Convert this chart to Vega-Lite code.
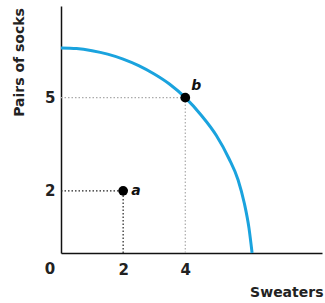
{
  "$schema": "https://vega.github.io/schema/vega-lite/v6.json",
  "width": 261,
  "height": 247,
  "autosize": "none",
  "padding": {"left": 61, "top": 6, "right": 3, "bottom": 50},
  "background": "white",
  "config": {
    "view": {"stroke": null},
    "axis": {
      "grid": false,
      "ticks": false,
      "domainColor": "#111",
      "domainWidth": 1.5,
      "labelFont": "DejaVu Sans",
      "labelFontWeight": "bold",
      "labelFontSize": 15,
      "labelColor": "#222",
      "titleFont": "DejaVu Sans",
      "titleFontWeight": "bold",
      "titleFontSize": 14,
      "titleColor": "#222"
    }
  },
  "datasets": {
    "curve": [
      {"x": 0, "y": 6.6}, {"x": 0.5, "y": 6.58}, {"x": 1, "y": 6.51}, {"x": 1.5, "y": 6.4},
      {"x": 2, "y": 6.24}, {"x": 2.5, "y": 6.03}, {"x": 3, "y": 5.76}, {"x": 3.5, "y": 5.43},
      {"x": 4, "y": 5.0}, {"x": 4.5, "y": 4.45}, {"x": 5, "y": 3.78}, {"x": 5.4, "y": 3.05},
      {"x": 5.7, "y": 2.35}, {"x": 5.9, "y": 1.6}, {"x": 6.05, "y": 0.8}, {"x": 6.15, "y": 0}
    ],
    "guides": [
      {"x0": 0, "x1": 4, "y0": 5, "y1": 5, "g": "b"},
      {"x0": 4, "x1": 4, "y0": 0, "y1": 5, "g": "b"},
      {"x0": 0, "x1": 2, "y0": 2, "y1": 2, "g": "a"},
      {"x0": 2, "x1": 2, "y0": 0, "y1": 2, "g": "a"}
    ],
    "points": [
      {"x": 2, "y": 2, "label": "a"},
      {"x": 4, "y": 5, "label": "b"}
    ],
    "origin": [{"x": 0, "y": 0, "label": "0"}]
  },
  "layer": [
    {
      "data": {"name": "guides"},
      "mark": {"type": "rule", "strokeDash": [1.5, 2], "strokeWidth": 1.2},
      "encoding": {
        "x": {"field": "x0", "type": "quantitative", "scale": {"domain": [0, 8.4], "nice": false},
          "axis": {"values": [2, 4], "labelPadding": 9, "title": "Sweaters", "titleAnchor": "end", "titleAlign": "right", "titleX": 262, "titleY": 39, "titleBaseline": "middle"}},
        "x2": {"field": "x1"},
        "y": {"field": "y0", "type": "quantitative", "scale": {"domain": [0, 7.95], "nice": false},
          "axis": {"values": [2, 5], "labelPadding": 6, "title": "Pairs of socks", "titleAngle": -90, "titleX": -42, "titleY": 56, "titleAlign": "center", "titleBaseline": "middle"}},
        "y2": {"field": "y1"},
        "color": {"field": "g", "type": "nominal", "scale": {"domain": ["a", "b"], "range": ["#222", "#aaa"]}, "legend": null}
      }
    },
    {
      "data": {"name": "curve"},
      "mark": {"type": "line", "interpolate": "monotone", "color": "#1aa3de", "strokeWidth": 3},
      "encoding": {
        "x": {"field": "x", "type": "quantitative"},
        "y": {"field": "y", "type": "quantitative"}
      }
    },
    {
      "data": {"name": "points"},
      "mark": {"type": "circle", "color": "#000", "size": 95, "opacity": 1},
      "encoding": {
        "x": {"field": "x", "type": "quantitative"},
        "y": {"field": "y", "type": "quantitative"}
      }
    },
    {
      "data": {"name": "points"},
      "transform": [{"filter": "datum.label === 'a'"}],
      "mark": {"type": "text", "font": "DejaVu Sans", "fontWeight": "bold", "fontStyle": "italic", "fontSize": 14, "align": "left", "baseline": "middle", "dx": 8, "dy": 0, "color": "#111"},
      "encoding": {
        "x": {"field": "x", "type": "quantitative"},
        "y": {"field": "y", "type": "quantitative"},
        "text": {"field": "label"}
      }
    },
    {
      "data": {"name": "points"},
      "transform": [{"filter": "datum.label === 'b'"}],
      "mark": {"type": "text", "font": "DejaVu Sans", "fontWeight": "bold", "fontStyle": "italic", "fontSize": 14, "align": "left", "baseline": "middle", "dx": 6, "dy": -12, "color": "#111"},
      "encoding": {
        "x": {"field": "x", "type": "quantitative"},
        "y": {"field": "y", "type": "quantitative"},
        "text": {"field": "label"}
      }
    },
    {
      "data": {"name": "origin"},
      "mark": {"type": "text", "font": "DejaVu Sans", "fontWeight": "bold", "fontSize": 15, "align": "center", "baseline": "middle", "dx": -11, "dy": 16, "color": "#222"},
      "encoding": {
        "x": {"field": "x", "type": "quantitative"},
        "y": {"field": "y", "type": "quantitative"},
        "text": {"field": "label"}
      }
    }
  ]
}
